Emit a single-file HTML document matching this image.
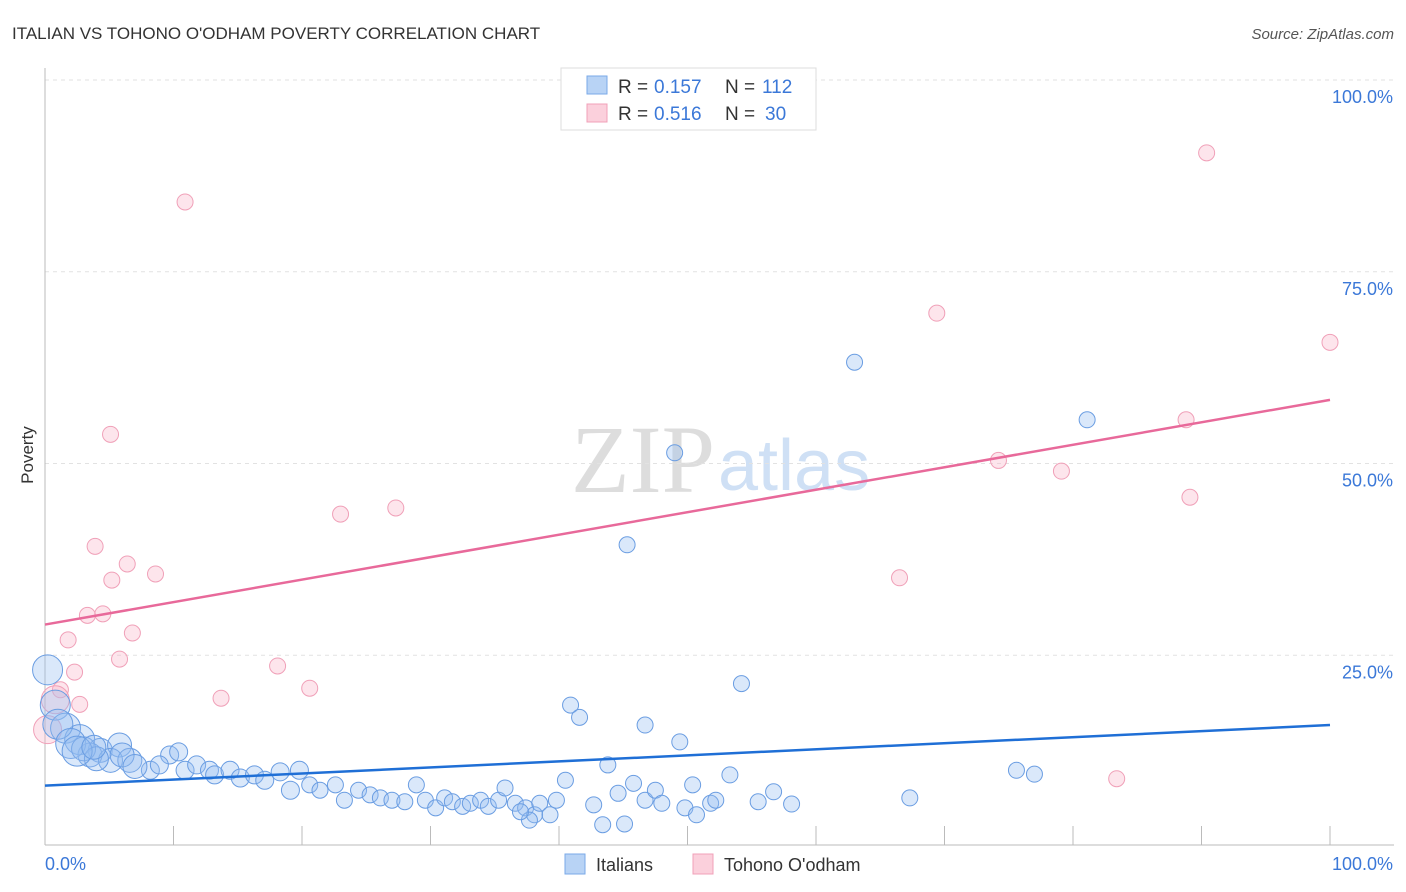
<!DOCTYPE html>
<html><head><meta charset="utf-8"><style>
body{margin:0;background:#fff;font-family:"Liberation Sans",sans-serif;}
svg{display:block}
</style></head><body>
<svg id="chart" width="1406" height="892">
<text x="12" y="39" font-size="17" fill="#333">ITALIAN VS TOHONO O'ODHAM POVERTY CORRELATION CHART</text>
<text x="1394" y="39" font-size="15" fill="#555" font-style="italic" text-anchor="end">Source: ZipAtlas.com</text>
<text x="33" y="455" font-size="17" fill="#333" text-anchor="middle" transform="rotate(-90 33 455)">Poverty</text>
<text x="715" y="492" font-size="96" fill="#ddd" text-anchor="end" font-family="Liberation Serif,serif">ZIP</text>
<text x="718" y="490" font-size="72" fill="#cfe0f5">atlas</text>
<g id="grid"></g><g id="pts"></g><g id="lines"></g>
<g>
<rect x="561" y="68" width="255" height="62" fill="#fff" stroke="#ddd"/>
<rect x="587" y="76" width="20" height="18" fill="#b8d3f5" stroke="#7aa9e8"/>
<rect x="587" y="104" width="20" height="18" fill="#fbd0dc" stroke="#f0a0b8"/>
<text x="618" y="93" font-size="19" fill="#333">R =</text><text x="654" y="93" font-size="19" fill="#3b78d8">0.157</text>
<text x="725" y="93" font-size="19" fill="#333">N =</text><text x="762" y="93" font-size="19" fill="#3b78d8">112</text>
<text x="618" y="120" font-size="19" fill="#333">R =</text><text x="654" y="120" font-size="19" fill="#3b78d8">0.516</text>
<text x="725" y="120" font-size="19" fill="#333">N =</text><text x="765" y="120" font-size="19" fill="#3b78d8">30</text>
</g>
<g>
<rect x="565" y="854" width="20" height="20" fill="#b8d3f5" stroke="#7aa9e8"/>
<text x="596" y="871" font-size="18" fill="#333">Italians</text>
<rect x="693" y="854" width="20" height="20" fill="#fbd0dc" stroke="#f0a0b8"/>
<text x="724" y="871" font-size="18" fill="#333">Tohono O'odham</text>
</g>
</svg>
<script>
const yTicks=[25,50,75,100];
const yTickLabels=["25.0%","50.0%","75.0%","100.0%"];
const xTicks=[0,10,20,30,40,50,60,70,80,90,100];
const blueX=[63.0,81.1,49.0,45.3,54.2,40.9,41.6,46.7,49.4,0.2,0.8,1.6,2.7,4.3,5.8,3.5,5.1,6.6,8.2,9.7,10.4,8.9,10.9,11.8,12.8,13.2,14.4,15.2,16.3,17.1,18.3,19.1,19.8,20.6,21.4,22.6,23.3,24.4,25.3,26.1,27.0,28.0,28.9,29.6,30.4,31.1,31.7,32.5,33.1,33.9,34.5,35.3,35.8,36.6,37.4,38.1,38.5,39.3,39.8,40.5,42.7,43.4,43.8,44.6,45.1,45.8,46.7,47.5,48.0,49.8,50.4,50.7,51.8,52.2,53.3,55.5,56.7,58.1,67.3,75.6,77.0,37.7,37.0,1.0,2.0,3.0,4.0,6.0,7.0,2.5,3.8];
const blueY=[63.2,55.7,51.4,39.4,21.3,18.5,16.9,15.9,13.7,23.1,18.5,15.5,14.0,12.6,13.3,12.0,11.3,11.3,10.0,12.0,12.4,10.7,10.0,10.7,10.0,9.4,10.0,9.0,9.4,8.7,9.8,7.4,10.0,8.1,7.4,8.1,6.1,7.4,6.8,6.4,6.1,5.9,8.1,6.1,5.1,6.4,5.9,5.3,5.7,6.1,5.3,6.1,7.7,5.7,5.1,4.2,5.7,4.2,6.1,8.7,5.5,2.9,10.7,7.0,3.0,8.3,6.1,7.4,5.7,5.1,8.1,4.2,5.7,6.1,9.4,5.9,7.2,5.6,6.4,10.0,9.5,3.5,4.6,16.0,13.5,12.8,11.5,12.0,10.5,12.5,13.0];
const pinkX=[10.9,5.1,90.4,69.4,100,88.8,74.2,79.1,89.1,66.5,23.0,27.3,3.9,6.4,8.6,5.2,3.3,4.5,6.8,1.8,5.8,18.1,2.3,20.6,13.7,1.2,2.7,0.8,83.4,0.2];
const pinkY=[84.1,53.8,90.5,69.6,65.8,55.7,50.4,49.0,45.6,35.1,43.4,44.2,39.2,36.9,35.6,34.8,30.2,30.4,27.9,27.0,24.5,23.6,22.8,20.7,19.4,20.5,18.6,19.2,8.9,15.3];
const blueTrend=[8.0,15.9];
const pinkTrend=[29.0,58.3];
const NS="http://www.w3.org/2000/svg";
const X0=45,X1=1330,Y0=847,Y1=80;
const sx=v=>X0+(X1-X0)*v/100, sy=v=>Y0-(Y0-Y1)*v/100;
function mk(t,a,p){const e=document.createElementNS(NS,t);for(const k in a)e.setAttribute(k,a[k]);p.appendChild(e);return e;}
const grid=document.getElementById('grid');
yTicks.forEach((t,i)=>{
 const l=mk('line',{x1:X0,x2:1394,y1:sy(t),y2:sy(t),stroke:'#e2e2e2','stroke-dasharray':'4,4'},grid);
 
 
 const tx=mk('text',{x:1393,y:sy(t)+23,'font-size':18,fill:'#3b78d8','text-anchor':'end'},grid);
 tx.textContent=yTickLabels[i];
 
 
});
const ax=mk('line',{x1:X0,x2:X0,y1:68,y2:845,stroke:'#bbb'},grid);


const bx=mk('line',{x1:X0,x2:1394,y1:845,y2:845,stroke:'#bbb'},grid);


xTicks.forEach(t=>{const l=mk('line',{x1:sx(t),x2:sx(t),y1:826,y2:845,stroke:'#bbb'},grid);
 
 });
const xl0=mk('text',{x:45,y:870,'font-size':18,fill:'#3b78d8'},grid);xl0.textContent='0.0%';


const xl1=mk('text',{x:1393,y:870,'font-size':18,fill:'#3b78d8','text-anchor':'end'},grid);xl1.textContent='100.0%';


const pts=document.getElementById('pts');
pinkX.forEach((x,i)=>{const c=mk('circle',{cx:sx(x),cy:sy(pinkY[i]),r:x<1?14:8,fill:'rgba(248,180,200,0.35)',stroke:'#f0a0b8','stroke-width':1},pts);
 
 });
blueX.forEach((x,i)=>{const r=x<3?15:(x<8?12:(x<20?9:8));
 const c=mk('circle',{cx:sx(x),cy:sy(blueY[i]),r:r,fill:'rgba(150,188,240,0.35)',stroke:'#6a9de2','stroke-width':1},pts);
 
 });
const lines=document.getElementById('lines');
const bl=mk('line',{x1:sx(0),x2:sx(100),y1:sy(blueTrend[0]),y2:sy(blueTrend[1]),stroke:'#1f6fd6','stroke-width':2.5},lines);


const pl=mk('line',{x1:sx(0),x2:sx(100),y1:sy(pinkTrend[0]),y2:sy(pinkTrend[1]),stroke:'#e8699a','stroke-width':2.5},lines);


</script>
</body></html>
